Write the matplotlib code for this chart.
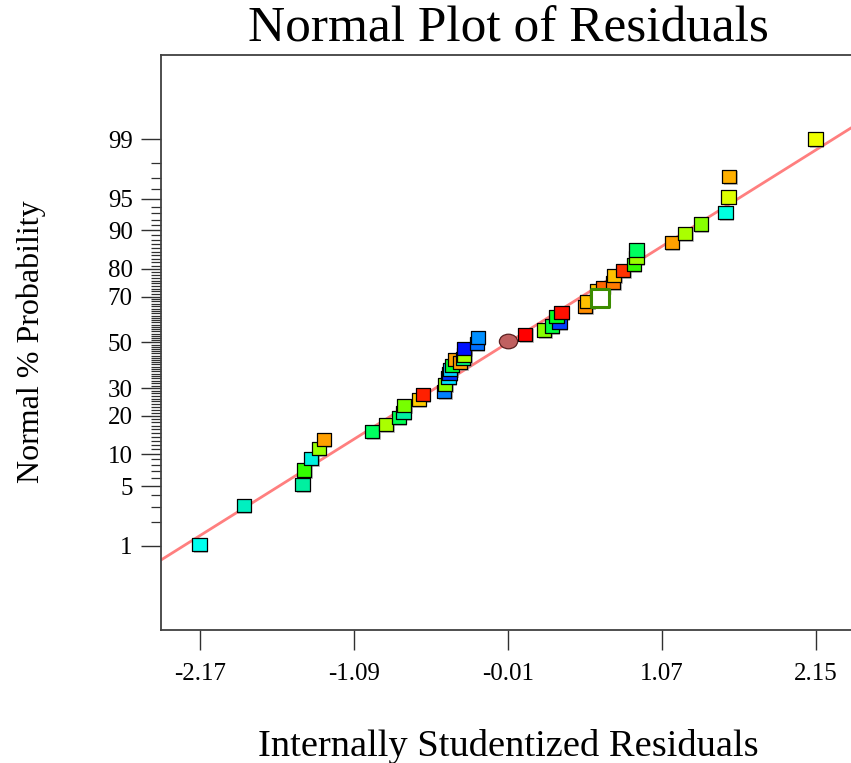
import matplotlib
matplotlib.use("Agg")
import matplotlib.pyplot as plt
from matplotlib.markers import MarkerStyle
from matplotlib.transforms import Affine2D, offset_copy
from statistics import NormalDist

plt.rcParams['font.family'] = ['Liberation Serif', 'DejaVu Serif']
plt.rcParams['axes.unicode_minus'] = False

# internally studentized residuals (ascending) and their normal % probability
residuals = [-2.17, -1.859, -1.450, -1.438, -1.389, -1.333, -1.300, -0.961, -0.863, -0.774,
             -0.741, -0.735, -0.633, -0.605, -0.456, -0.449, -0.426, -0.419, -0.414, -0.402,
             -0.379, -0.344, -0.321, -0.316, -0.314, -0.227, -0.220, 0.112, 0.245, 0.299,
             0.353, 0.334, 0.369, 0.533, 0.549, 0.615, 0.657, 0.731, 0.736, 0.801,
             0.876, 0.895, 0.895, 1.141, 1.234, 1.344, 1.517, 1.538, 1.543, 2.15]
probability = [1.04, 3.07, 5.16, 7.19, 9.21, 11.25, 13.35, 15.3, 17.4, 19.4,
               21.0, 23.5, 25.6, 27.6, 28.7, 31.5, 34.3, 36.1, 37.8, 39.4,
               42.2, 40.8, 42.7, 44.2, 47.3, 49.5, 52.3, 53.6, 55.6, 57.4,
               58.9, 61.5, 63.3, 65.9, 68.0, 72.1, 73.6, 75.4, 77.9, 79.4,
               81.4, 83.4, 85.5, 87.3, 89.3, 91.2, 93.1, 95.2, 97.1, 99.0]
point_colors = ['#00FFEE', '#00F0C0', '#00F0A0', '#33FF00', '#00F0E0', '#99FF00', '#FFA000',
                '#00FF60', '#AAFF00', '#00FF50', '#00F0A0', '#77FF00', '#FFCC00', '#FF2000',
                '#0080FF', '#88FF00', '#00E0FF', '#0030FF', '#00D0FF', '#00FF30', '#FFA000',
                '#FFA000', '#00FF80', '#AAFF00', '#0010FF', '#0070FF', '#0090FF', '#FF0000',
                '#88FF00', '#00FF40', '#0040FF', '#00FF20', '#FF1000', '#FF8C00', '#FFC000',
                '#FFC000', '#FF6600', '#FF7A00', '#FFC000', '#FF3300', '#33FF00', '#99FF00',
                '#00FF60', '#FFA000', '#AAFF00', '#88FF00', '#00FFE0', '#DDFF00', '#FFB000',
                '#EEFF00']

# highlighted run (hollow) and the median run (circle)
sel_residual, sel_probability = 0.638, 69.3
mid_residual, mid_probability = -0.01, 50.4

# reference line through the residuals
line_slope = 1.022
line_intercept = 0.003

x_ticks = [-2.17, -1.09, -0.01, 1.07, 2.15]
y_major = [1, 5, 10, 20, 30, 50, 70, 80, 90, 95, 99]
y_minor = [p for p in range(1, 100) if p not in y_major]

nd = NormalDist()


def probit(p):
    return nd.inv_cdf(p / 100.0)


fig = plt.figure(figsize=(8.51, 7.63), dpi=100)
ax = fig.add_axes([161 / 851, 133 / 763, 690 / 851, 575 / 763])

xlo, xhi = -2.441, 2.398
ax.set_xlim(xlo, xhi)
ax.set_ylim(-3.293, 3.289)

# fitted line
ax.plot([xlo, xhi], [line_slope * xlo + line_intercept, line_slope * xhi + line_intercept],
        color='#FF7F7F', linewidth=2.0, zorder=1, clip_on=True)

zs = [probit(p) for p in probability]
sq = MarkerStyle('s', transform=Affine2D().scale(1.08, 1.0))

# soft drop shadow under each marker
shadow = offset_copy(ax.transData, fig=fig, x=1.5, y=-1.5, units='dots')
ax.scatter(residuals, zs, marker=sq, s=92, color='#8a8a8a', alpha=0.55,
           linewidths=0, transform=shadow, zorder=2)
ax.scatter(residuals, zs, marker=sq, s=92, c=point_colors, edgecolors='black',
           linewidths=0.9, zorder=3)

# median run
oval = MarkerStyle('o', transform=Affine2D().scale(1.25, 1.0))
ax.scatter([mid_residual], [probit(mid_probability)], marker=oval, s=110,
           color='#C06060', edgecolors='#5a2020', linewidths=0.9, zorder=4)

# highlighted run
ax.scatter([sel_residual], [probit(sel_probability)], marker='s', s=150,
           color='white', edgecolors='#3C8C00', linewidths=2.2, zorder=5)

# axes frame
for side in ['left', 'bottom', 'top']:
    ax.spines[side].set_color('#404040')
    ax.spines[side].set_linewidth(1.3)
ax.spines['right'].set_visible(False)

ax.set_xticks(x_ticks)
ax.set_xticklabels([f'{v:.2f}' for v in x_ticks])
ax.set_yticks([probit(p) for p in y_major])
ax.set_yticklabels([str(p) for p in y_major])
ax.set_yticks([probit(p) for p in y_minor], minor=True)

ax.tick_params(axis='both', which='major', direction='out', length=14.4, width=1.0,
               color='#303030', labelsize=18, pad=6)
ax.tick_params(axis='y', which='minor', direction='out', length=7.2, width=0.9,
               color='#303030')
ax.tick_params(axis='x', pad=9)
ax.tick_params(top=False, right=False, which='both')

fig.text(508 / 851, 1 - 42 / 763, 'Normal Plot of Residuals', fontsize=37,
         ha='center', va='baseline')
fig.text(508 / 851, 1 - 756 / 763, 'Internally Studentized Residuals', fontsize=27.7,
         ha='center', va='baseline')
fig.text(31 / 851, 1 - 342 / 763, 'Normal % Probability', fontsize=23,
         ha='center', va='center', rotation=90)

fig.savefig('out.png', dpi=100)
